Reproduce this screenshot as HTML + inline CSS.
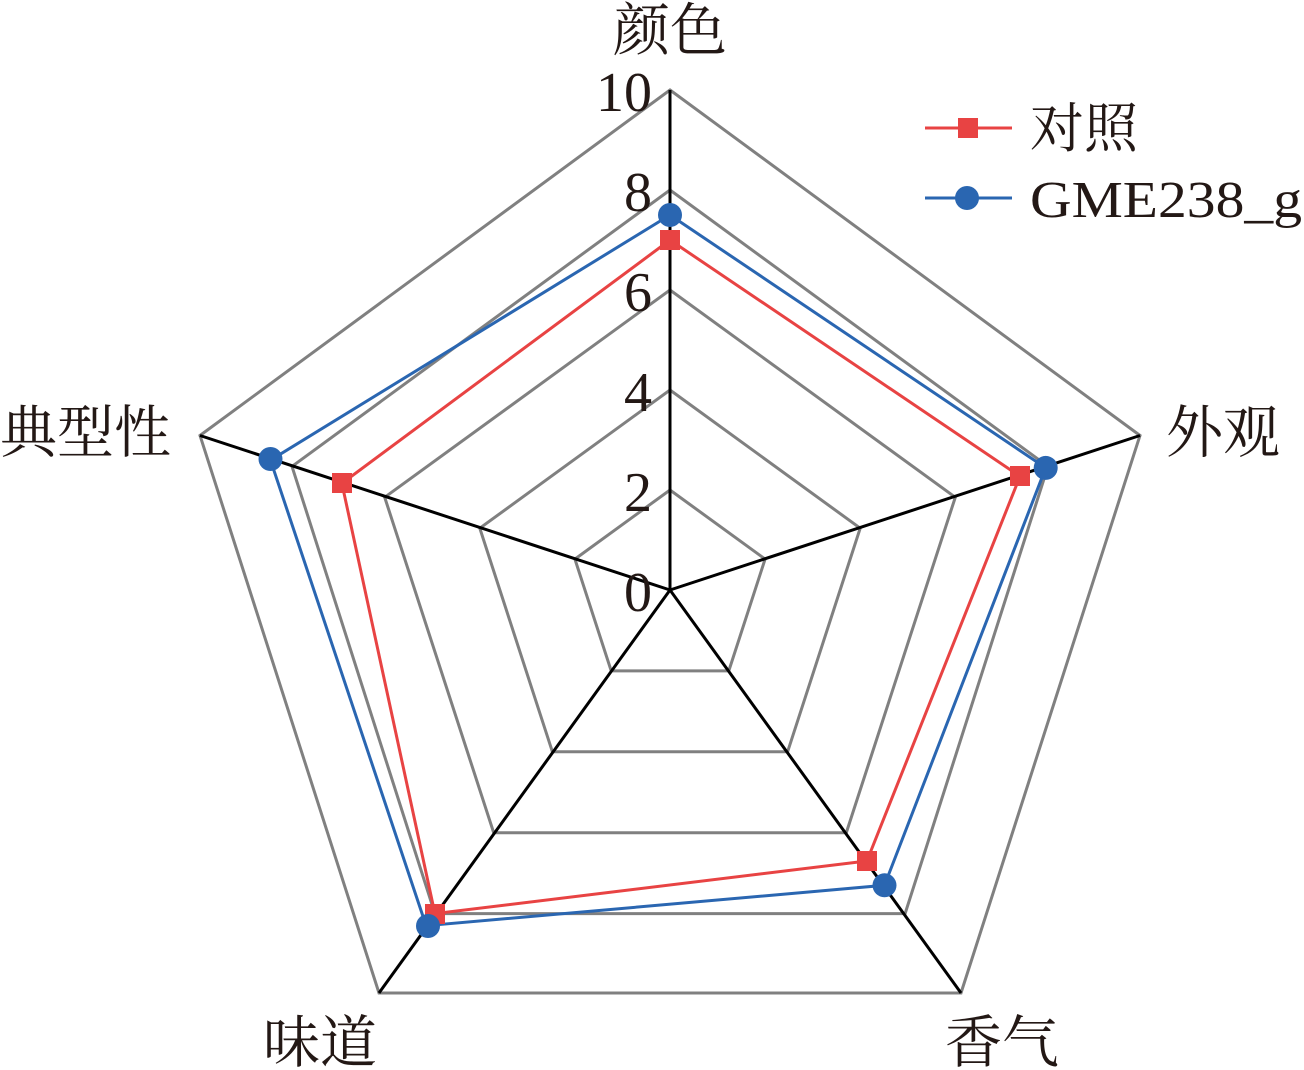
<!DOCTYPE html>
<html><head><meta charset="utf-8"><style>
html,body{margin:0;padding:0;background:#fff;}
svg{display:block;}
text{font-family:"Liberation Serif","Noto Serif CJK SC",serif;fill:#231815;}
</style></head><body>
<svg width="1304" height="1070" viewBox="0 0 1304 1070" xmlns="http://www.w3.org/2000/svg">
<g fill="none" stroke="#808080" stroke-width="3">
<polygon points="670,490 765.1,559.1 728.8,670.9 611.2,670.9 574.9,559.1"/>
<polygon points="670,390 860.2,528.2 787.6,751.8 552.4,751.8 479.8,528.2"/>
<polygon points="670,290 955.3,497.3 846.3,832.7 493.7,832.7 384.7,497.3"/>
<polygon points="670,190 1048,466.4 905.1,913.6 434.9,913.6 292,466.4"/>
<polygon points="670,90 1140,435.5 961,993 379,993 200,435.5"/>
</g>
<g stroke="#000" stroke-width="3">
<line x1="670" y1="590" x2="670" y2="90"/>
<line x1="670" y1="590" x2="1140" y2="435.5"/>
<line x1="670" y1="590" x2="961" y2="993"/>
<line x1="670" y1="590" x2="379" y2="993"/>
<line x1="670" y1="590" x2="200" y2="435.5"/>
</g>
<polygon fill="none" stroke="#e84343" stroke-width="3" points="670,240 1020,476.3 866.9,861 434.9,913.6 341.9,483.4"/>
<polygon fill="none" stroke="#2a66b1" stroke-width="3" points="670,215 1045.7,467.9 884.5,885.3 426.1,925.7 270.5,460.2"/>
<g fill="#e84343">
<rect x="660" y="230" width="20" height="20"/>
<rect x="1010" y="466" width="20" height="20"/>
<rect x="857" y="851" width="20" height="20"/>
<rect x="425" y="904" width="20" height="20"/>
<rect x="332" y="473" width="20" height="20"/>
</g>
<g fill="#2a66b1">
<circle cx="670" cy="215" r="12"/>
<circle cx="1045.7" cy="467.9" r="12"/>
<circle cx="884.5" cy="885.3" r="12"/>
<circle cx="428" cy="926" r="12"/>
<circle cx="270.5" cy="459" r="12"/>
</g>
<g font-size="56" text-anchor="end">
<text x="652" y="111">10</text>
<text x="652" y="211">8</text>
<text x="652" y="311">6</text>
<text x="652" y="411">4</text>
<text x="652" y="511">2</text>
<text x="652" y="611">0</text>
</g>
<g font-size="57">
<text x="670" y="50" text-anchor="middle">颜色</text>
<text x="1166" y="452">外观</text>
<text x="945" y="1062">香气</text>
<text x="263" y="1062">味道</text>
<text x="0" y="452">典型性</text>
</g>
<line x1="925" y1="128" x2="1012" y2="128" stroke="#e84343" stroke-width="3"/>
<rect x="958" y="118" width="20" height="20" fill="#e84343"/>
<text x="1030" y="147" font-size="54">对照</text>
<line x1="925" y1="198" x2="1012" y2="198" stroke="#2a66b1" stroke-width="3"/>
<circle cx="967" cy="198" r="12" fill="#2a66b1"/>
<text x="1030" y="217" font-size="52" textLength="272" lengthAdjust="spacingAndGlyphs">GME238_g</text>
</svg>
</body></html>
